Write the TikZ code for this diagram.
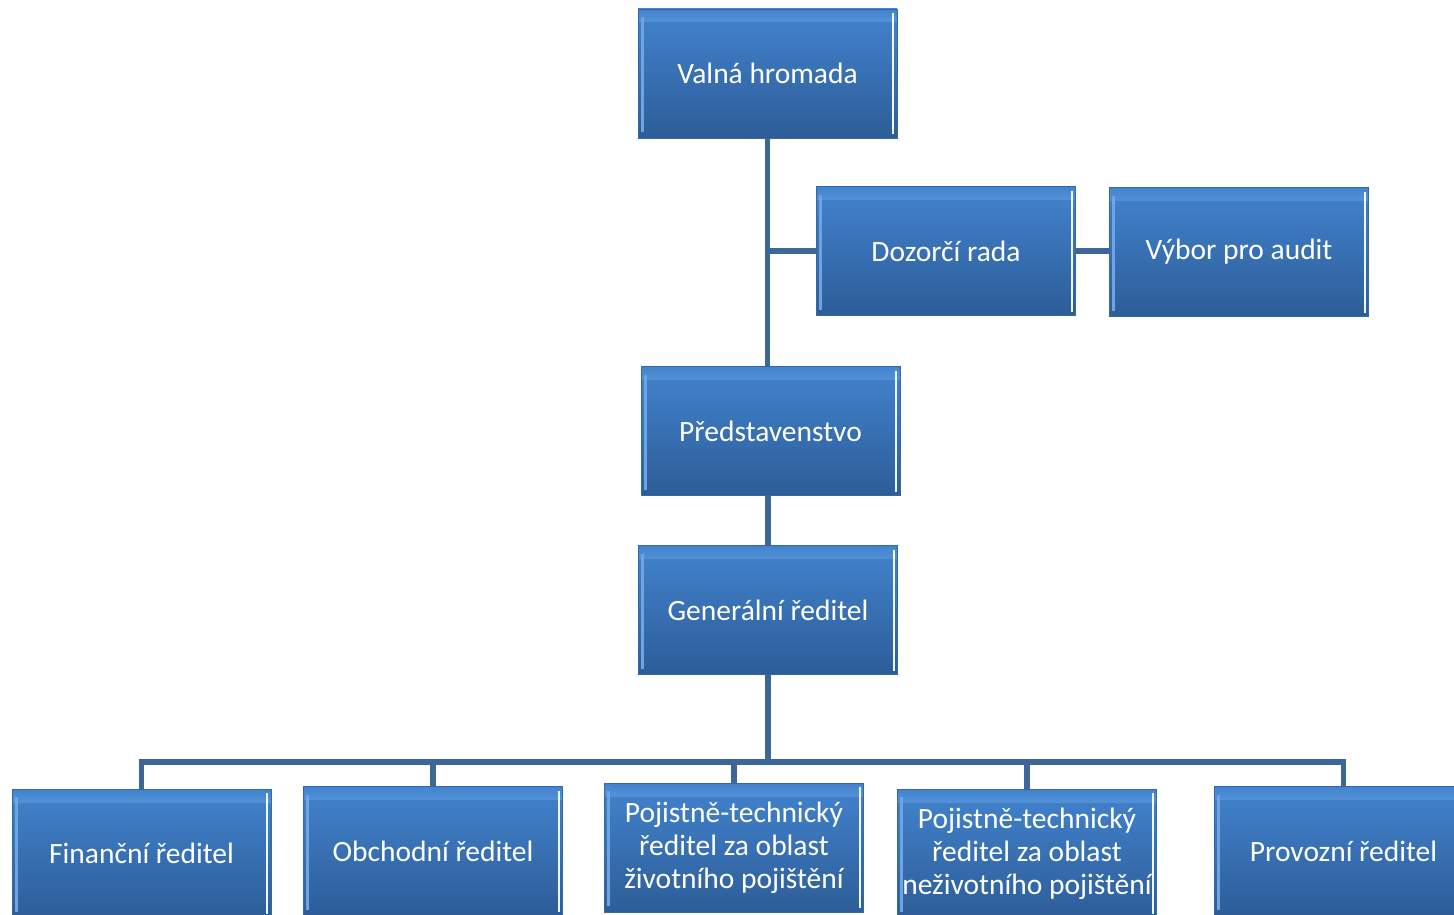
\documentclass[tikz,border=0pt]{standalone}
\usepackage{fontspec}
\setmainfont{Carlito}
\definecolor{boxtop}{RGB}{66,131,206}
\definecolor{boxbot}{RGB}{45,93,152}
\definecolor{bevel}{RGB}{150,200,245}
\definecolor{linkblue}{RGB}{62,103,153}
\tikzset{
  unit/.style={minimum width=259pt, minimum height=129pt, inner sep=0pt, outer sep=0pt,
    top color=boxtop, bottom color=boxbot, draw=boxtop!80!black, line width=0.8pt,
    text=white, align=center, font=\fontsize{29.5}{33}\selectfont,
    path picture={
      \shade[top color=boxtop, bottom color=boxtop, middle color=bevel]
        ([yshift=-2pt]path picture bounding box.north west) rectangle
        ([yshift=-13pt]path picture bounding box.north east);
      \draw[white!85!bevel, line width=2pt]
        ([xshift=-4pt,yshift=-4pt]path picture bounding box.north east) --
        ([xshift=-4pt,yshift=4pt]path picture bounding box.south east);
      \draw[bevel!50!boxtop, line width=3pt]
        ([xshift=4pt,yshift=-8pt]path picture bounding box.north west) --
        ([xshift=4pt,yshift=6pt]path picture bounding box.south west);
    }},
  link/.style={draw=linkblue, line width=5.5pt}
}
\begin{document}
\begin{tikzpicture}[x=1pt, y=-1pt]
  \useasboundingbox (0,0) rectangle (1454,915);
  \clip (0,0) rectangle (1454,915);
  % vedeni
  \node[unit] (valna) at (767.5,73.5) {Valná hromada};
  \node[unit] (dozor) at (946,251) {Dozorčí rada};
  \node[unit] (vybor) at (1239,252) {Výbor pro audit};
  \node[unit] (pred) at (770.5,431) {Představenstvo};
  \node[unit] (gen) at (768,610) {Generální ředitel};
  % reditele
  \node[unit] (fin) at (141.5,853.5) {Finanční ředitel};
  \node[unit] (obch) at (433,851) {Obchodní ředitel};
  \node[unit] (zivot) at (734,847.5) {Pojistně-technický\\ředitel za oblast\\životního pojištění};
  \node[unit] (nezivot) at (1027,853.5) {Pojistně-technický\\ředitel za oblast\\neživotního pojištění};
  \node[unit] (prov) at (1343.5,851) {Provozní ředitel};
  \coordinate (bus) at (768,762);
  \draw[link] (valna.south) -- (valna.south |- pred.north);
  \draw[link] (valna.south |- dozor.west) -- (dozor.west);
  \draw[link] (dozor.east) -- (dozor.east -| vybor.west);
  \draw[link] (gen.south |- pred.south) -- (gen.north);
  \draw[link] (gen.south) -- (bus);
  \foreach \n in {fin,obch,zivot,nezivot,prov}{
    \draw[link] (bus) -| (\n.north);
  }
\end{tikzpicture}
\end{document}
